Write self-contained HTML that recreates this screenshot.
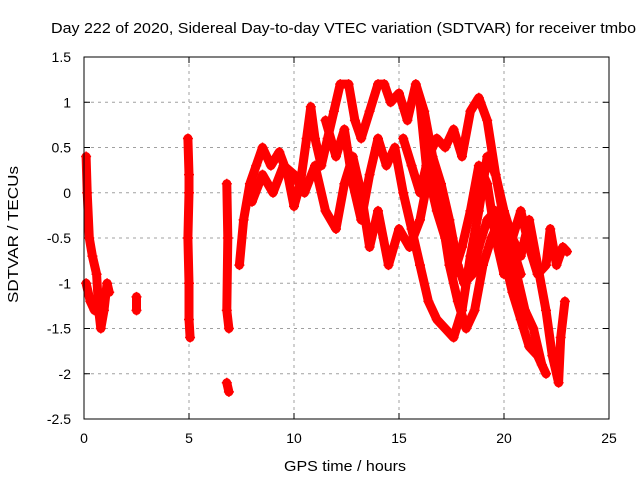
<!DOCTYPE html>
<html><head><meta charset="utf-8"><style>
body{margin:0;background:#fff}
svg{display:block;font-family:"Liberation Sans",sans-serif}
</style></head><body>
<svg id="chart" width="640" height="480">
<text x="51" y="33" font-size="15" textLength="585" lengthAdjust="spacingAndGlyphs">Day 222 of 2020, Sidereal Day-to-day VTEC variation (SDTVAR) for receiver tmbo</text>
<text x="284" y="471" font-size="15" textLength="122" lengthAdjust="spacingAndGlyphs">GPS time / hours</text>
<text transform="translate(18,303) rotate(-90)" font-size="15" textLength="137" lengthAdjust="spacingAndGlyphs">SDTVAR / TECUs</text>
<g id="grid"></g>
<g id="ticks"></g>
<g id="marks"></g>
<rect x="84" y="57" width="525" height="362" fill="none" stroke="#000"/>
</svg>
<script>
const xTicks=[0,5,10,15,20,25];
const yTicks=[1.5,1,0.5,0,-0.5,-1,-1.5,-2,-2.5];
const yTickLabels=["1.5","1","0.5","0","-0.5","-1","-1.5","-2","-2.5"];
const trackA=[[0.1,0.4],[0.15,0],[0.25,-0.5],[0.4,-0.7],[0.6,-0.9],[0.7,-1.3],[0.8,-1.5],[0.95,-1.3],[1.1,-1.0],[1.2,-1.1]];
const trackB=[[0.1,-1.0],[0.3,-1.2],[0.5,-1.3]];
const trackC=[[2.5,-1.15],[2.5,-1.3]];
const trackD=[[4.95,0.6],[5.0,0.2],[5.0,0],[4.95,-0.5],[5.0,-1.0],[5.0,-1.4],[5.05,-1.6]];
const trackE=[[6.8,0.1],[6.85,-0.5],[6.8,-1.3],[6.9,-1.5]];
const trackF=[[6.8,-2.1],[6.9,-2.2]];
const track1=[[7.4,-0.8],[7.6,-0.3],[7.9,0.1],[8.2,0.3],[8.5,0.5],[8.9,0.3],[9.3,0.45],[9.7,0.2],[10.0,-0.15],[10.3,0.1],[10.6,0.6],[10.8,0.95],[11.0,0.6],[11.3,0.3],[11.6,0.6],[11.9,0.9],[12.2,1.2],[12.6,1.2],[12.9,0.8],[13.2,0.6],[13.6,0.9],[14.0,1.2],[14.3,1.2],[14.6,1.0],[15.0,1.1],[15.4,0.8],[15.8,1.2],[16.2,0.9],[16.6,0.4],[17.0,0.1],[17.4,-0.3],[17.8,-0.8],[18.1,-1.0],[18.5,-0.9],[18.8,-0.6],[19.2,-0.3],[19.6,-0.2],[20.0,-0.7],[20.4,-1.1],[20.8,-1.4],[21.2,-1.7],[21.6,-1.8],[22.0,-2.0]];
const track2=[[8.0,-0.1],[8.5,0.2],[9.0,0.0],[9.5,0.3],[10.0,0.2],[10.5,0.0],[11.0,0.3],[11.5,-0.2],[12.0,-0.4],[12.4,0.1],[12.8,0.4],[13.2,0.0],[13.6,-0.6],[14.0,-0.2],[14.5,-0.8],[15.0,-0.4],[15.5,-0.6],[16.0,-0.3],[16.5,0.3],[17.0,-0.2],[17.4,-0.8],[17.8,-1.2],[18.2,-1.5],[18.6,-1.3],[19.0,-0.8],[19.4,-0.5],[19.8,-0.3],[20.2,-0.5],[20.6,-0.9],[21.0,-1.3],[21.4,-1.5],[21.8,-1.9]];
const track3=[[11.5,0.8],[12.0,0.4],[12.4,0.7],[12.8,0.1],[13.2,-0.3],[13.6,0.2],[14.0,0.6],[14.4,0.3],[14.8,0.5],[15.2,0.0],[15.6,-0.4],[16.0,-0.8],[16.4,-1.2],[16.8,-1.4],[17.2,-1.5],[17.6,-1.6],[18.0,-1.3],[18.4,-0.7],[18.8,-0.2],[19.2,0.4],[19.6,0.2],[20.0,-0.3],[20.4,-0.6],[20.8,-0.9]];
const track4=[[15.2,0.6],[15.6,0.3],[16.0,0.0],[16.4,0.4],[16.8,0.6],[17.2,0.5],[17.6,0.7],[18.0,0.4],[18.4,0.9],[18.8,1.05],[19.2,0.8],[19.6,0.2],[20.0,-0.2],[20.4,-0.5],[20.8,-0.7],[21.2,-0.3],[21.6,-0.8],[22.0,-1.3],[22.3,-1.8],[22.6,-2.1],[22.7,-1.6],[22.9,-1.2]];
const track5=[[16.0,1.0],[16.3,0.3],[16.8,-0.2],[17.2,-0.5],[17.6,-0.9],[18.0,-0.6],[18.4,-0.2],[18.8,0.3],[19.2,0.1],[19.6,-0.5],[20.0,-0.9],[20.4,-0.5],[20.8,-0.2],[21.2,-0.6],[21.6,-0.9],[22.0,-0.8],[22.2,-0.4],[22.5,-0.8],[22.8,-0.6],[23.0,-0.65]];
const tracks=[trackA,trackB,trackC,trackD,trackE,trackF,track1,track2,track3,track4,track5];

const NS="http://www.w3.org/2000/svg";
const X0=84,X1=609,Y0=419,Y1=57;
const xs=v=>X0+(v-0)/(25-0)*(X1-X0);
const ys=v=>Y0-(v+2.5)/(1.5+2.5)*(Y0-Y1);
function mk(tag,attrs,parent){const e=document.createElementNS(NS,tag);for(const k in attrs)e.setAttribute(k,attrs[k]);parent.appendChild(e);return e;}
const grid=document.getElementById('grid'),ticks=document.getElementById('ticks'),marks=document.getElementById('marks');
xTicks.forEach((t,i)=>{
  const x=xs(t);
  if(i>0&&i<xTicks.length-1){const g=mk('line',{x1:x,x2:x,y1:Y1,y2:Y0,stroke:'#a0a0a0','stroke-dasharray':'3,4'},grid);
  
  }
  mk('line',{x1:x,x2:x,y1:Y0,y2:Y0-6,stroke:'#000'},ticks);
  mk('line',{x1:x,x2:x,y1:Y1,y2:Y1+6,stroke:'#000'},ticks);
  const l=mk('text',{x:x,y:443,'font-size':14,'text-anchor':'middle'},ticks);l.textContent=t;
  
  
});
yTicks.forEach((t,i)=>{
  const y=ys(t);
  if(i>0&&i<yTicks.length-1){const g=mk('line',{x1:X0,x2:X1,y1:y,y2:y,stroke:'#a0a0a0','stroke-dasharray':'3,4'},grid);
  
  }
  mk('line',{x1:X0,x2:X0+6,y1:y,y2:y,stroke:'#000'},ticks);
  mk('line',{x1:X1,x2:X1-6,y1:y,y2:y,stroke:'#000'},ticks);
  const l=mk('text',{x:71,y:y+5,'font-size':14,'text-anchor':'end'},ticks);l.textContent=yTickLabels[i];
  
  
});
tracks.forEach((tr,ti)=>{
  const g=mk('g',{},marks);
  
  
  const pts=tr.map(p=>xs(p[0]).toFixed(1)+','+ys(p[1]).toFixed(1)).join(' ');
  mk('polyline',{points:pts,fill:'none',stroke:'#f00','stroke-width':9,'stroke-linejoin':'round','stroke-linecap':'round'},g);
  tr.forEach(p=>{
    const x=xs(p[0]),y=ys(p[1]);
    const m=mk('path',{d:`M${x-5},${y}H${x+5}M${x},${y-5}V${y+5}`,stroke:'#f00','stroke-width':1.5},g);
    
    
  });
});
</script>
</body></html>
